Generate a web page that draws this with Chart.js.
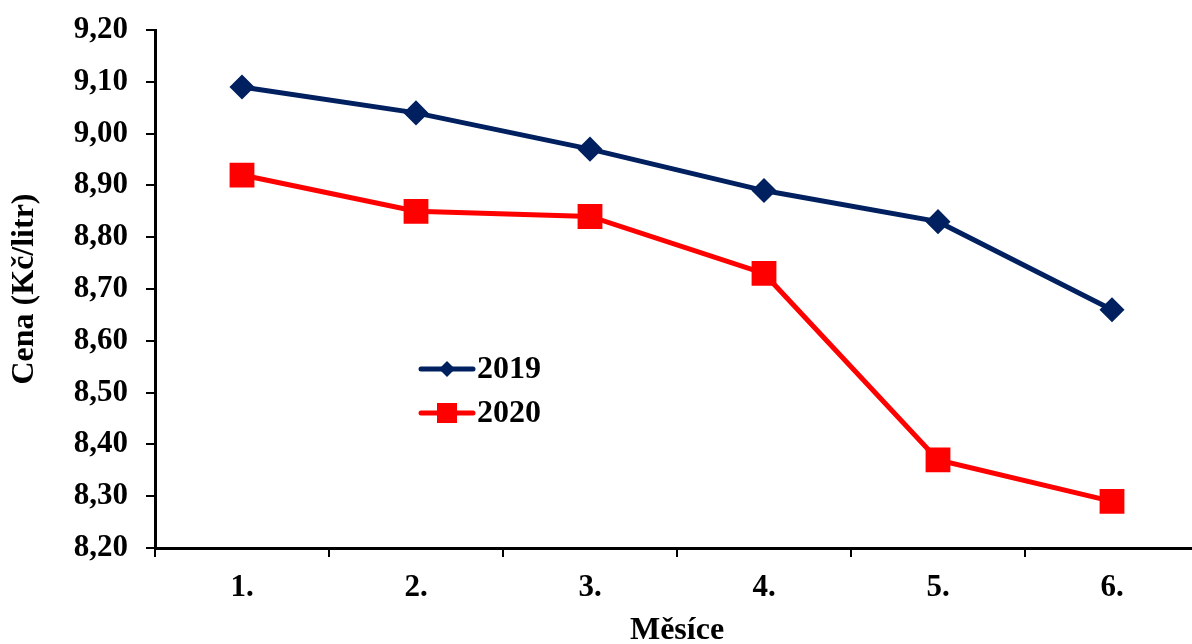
<!DOCTYPE html>
<html>
<head>
<meta charset="utf-8">
<script src="https://cdn.jsdelivr.net/npm/chart.js@4"></script>
<style>
  html, body { margin: 0; padding: 0; background: #fff; overflow: hidden; }
  #wrap { width: 1218px; height: 644px; }
</style>
</head>
<body>
<div id="wrap"><canvas id="chart" width="1218" height="644"></canvas></div>
<script>
// ------------------ Data ------------------
const months = ['1.', '2.', '3.', '4.', '5.', '6.'];
const prices2019 = [9.09, 9.04, 8.97, 8.89, 8.83, 8.66];
const prices2020 = [8.92, 8.85, 8.84, 8.73, 8.37, 8.29];
const yMin = 8.2;
const yMax = 9.2;
const yStep = 0.1;

const FONT = '"Liberation Serif", "Times New Roman", serif';
const NAVY = '#002060';
const RED = '#ff0000';

// legend drawn inside the plot, like the original
const insideLegend = {
  id: 'insideLegend',
  afterDraw(chart) {
    const ctx = chart.ctx;
    const items = [
      { label: '2019', color: NAVY, shape: 'diamond', y: 369 },
      { label: '2020', color: RED, shape: 'square', y: 413 }
    ];
    ctx.save();
    items.forEach(it => {
      ctx.strokeStyle = it.color;
      ctx.fillStyle = it.color;
      ctx.lineWidth = 5;
      ctx.lineCap = 'round';
      ctx.beginPath();
      ctx.moveTo(421, it.y);
      ctx.lineTo(473, it.y);
      ctx.stroke();
      ctx.beginPath();
      if (it.shape === 'diamond') {
        ctx.moveTo(447, it.y - 8);
        ctx.lineTo(455, it.y);
        ctx.lineTo(447, it.y + 8);
        ctx.lineTo(439, it.y);
        ctx.closePath();
      } else {
        ctx.rect(437, it.y - 10, 20, 20);
      }
      ctx.fill();
      ctx.fillStyle = '#000';
      ctx.font = 'bold 32px ' + FONT;
      ctx.textBaseline = 'middle';
      ctx.fillText(it.label, 477, it.y + 1);
    });
    ctx.restore();
  }
};

const ctx = document.getElementById('chart').getContext('2d');
new Chart(ctx, {
  type: 'line',
  data: {
    labels: months,
    datasets: [
      {
        label: '2019',
        data: prices2019,
        borderColor: NAVY,
        backgroundColor: NAVY,
        borderWidth: 5,
        pointStyle: 'rectRot',
        pointRadius: 9,
        pointHoverRadius: 9,
        tension: 0
      },
      {
        label: '2020',
        data: prices2020,
        borderColor: RED,
        backgroundColor: RED,
        borderWidth: 5,
        pointStyle: 'rect',
        pointRadius: 14,
        pointHoverRadius: 14,
        tension: 0
      }
    ]
  },
  options: {
    responsive: false,
    animation: false,
    layout: { padding: { top: 30, right: 0, bottom: 0, left: 0 } },
    plugins: {
      legend: { display: false },
      tooltip: { enabled: false }
    },
    scales: {
      x: {
        type: 'category',
        offset: true,
        grid: { offset: true, drawOnChartArea: false, drawTicks: true, tickLength: 9, color: '#000', lineWidth: 2 },
        border: { display: true, color: '#000', width: 3 },
        ticks: { color: '#000', font: { family: FONT, size: 31, weight: 'bold' }, padding: 12 },
        title: { display: true, text: 'Měsíce', color: '#000', font: { family: FONT, size: 32, weight: 'bold', lineHeight: 1 }, padding: { top: 0, bottom: -3 } },
        afterFit(scale) { scale.height = 96; }
      },
      y: {
        min: yMin,
        max: yMax,
        grid: { drawOnChartArea: false, drawTicks: true, tickLength: 9, color: '#000', lineWidth: 2 },
        border: { display: true, color: '#000', width: 3 },
        ticks: {
          stepSize: yStep,
          color: '#000',
          padding: 18,
          font: { family: FONT, size: 31, weight: 'bold' },
          callback: v => Number(v).toFixed(2).replace('.', ',')
        },
        title: { display: true, text: 'Cena (Kč/litr)', color: '#000', font: { family: FONT, size: 32, weight: 'bold' }, padding: { top: 6, bottom: 4 } },
        afterFit(scale) {
          scale.width = 155;
          scale.paddingTop = 0;
          scale.paddingBottom = 0;
        }
      }
    }
  },
  plugins: [insideLegend]
});
</script>
</body>
</html>
